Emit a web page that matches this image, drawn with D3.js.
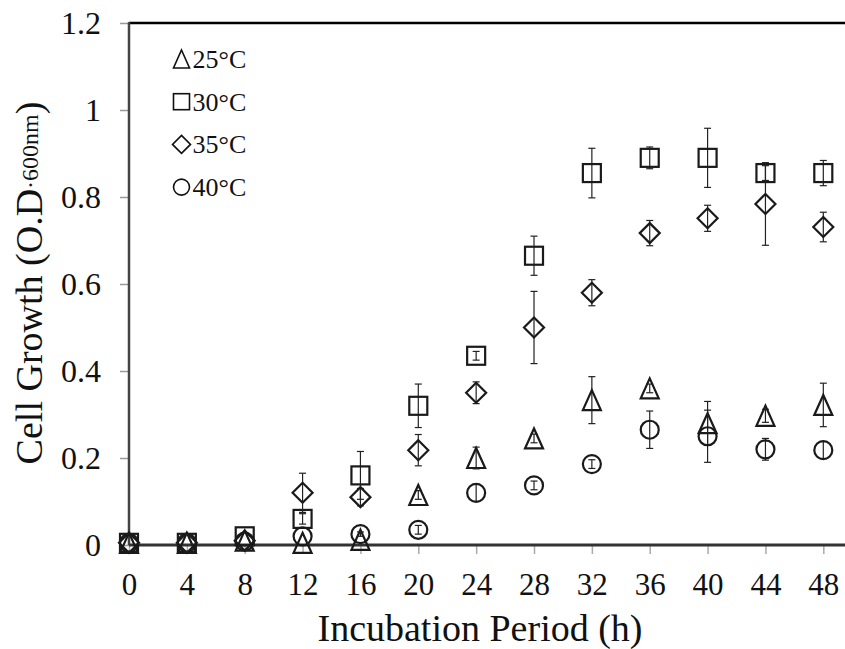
<!DOCTYPE html>
<html>
<head>
<meta charset="utf-8">
<script src="https://cdn.jsdelivr.net/npm/d3@7"></script>
<style>
  body { margin: 0; background: #fff; }
</style>
</head>
<body>
<div id="chart"></div>
<script>
// incubation time (h)
var hours = [0, 4, 8, 12, 16, 20, 24, 28, 32, 36, 40, 44, 48];
var yTicks = [0, 0.2, 0.4, 0.6, 0.8, 1, 1.2];

// OD600 readings per temperature, with error (+/-)
var t25 = [0.005, 0.005, 0.01, 0.005, 0.012, 0.115, 0.2, 0.245, 0.333, 0.36, 0.28, 0.297, 0.322];
var t25err = [0, 0, 0, 0, 0, 0.01, 0.025, 0.01, 0.054, 0.01, 0.05, 0.015, 0.05];
var t30 = [0.005, 0.005, 0.02, 0.06, 0.16, 0.32, 0.435, 0.665, 0.855, 0.89, 0.89, 0.855, 0.855];
var t30err = [0, 0, 0, 0.012, 0.055, 0.05, 0.01, 0.045, 0.057, 0.025, 0.068, 0.017, 0.029];
var t35 = [0.005, 0.005, 0.01, 0.12, 0.11, 0.218, 0.35, 0.5, 0.58, 0.717, 0.751, 0.784, 0.731];
var t35err = [0, 0, 0, 0.045, 0.02, 0.036, 0.025, 0.083, 0.03, 0.029, 0.03, 0.095, 0.034];
var t40 = [0.005, 0.005, 0.008, 0.02, 0.025, 0.035, 0.12, 0.137, 0.186, 0.265, 0.25, 0.22, 0.218];
var t40err = [0, 0, 0, 0, 0.005, 0.01, 0.02, 0.01, 0.01, 0.043, 0.06, 0.025, 0.02];

var series = [
  { name: "25\u00b0C", shape: "triangle", values: t25, err: t25err },
  { name: "30\u00b0C", shape: "square", values: t30, err: t30err },
  { name: "35\u00b0C", shape: "diamond", values: t35, err: t35err },
  { name: "40\u00b0C", shape: "circle", values: t40, err: t40err }
];

var FONT = "'Liberation Serif', 'Times New Roman', serif";
var W = 845, H = 649;
var margin = { top: 23, right: 0, bottom: 104, left: 129 };

var svg = d3.select("#chart").append("svg")
  .attr("width", W)
  .attr("height", H);

var x = d3.scaleLinear().domain([0, 49.5]).range([margin.left, W - margin.right]);
var y = d3.scaleLinear().domain([0, 1.2]).range([H - margin.bottom, margin.top]);

// marker drawing, centred on 0,0
function marker(sel, shape, s) {
  var h = s / 2;
  if (shape === "square") {
    sel.append("rect").attr("x", -h).attr("y", -h).attr("width", s).attr("height", s);
  } else if (shape === "diamond") {
    sel.append("path").attr("d", "M0," + (-h - 1) + "L" + (h + 1) + ",0L0," + (h + 1) + "L" + (-h - 1) + ",0Z");
  } else if (shape === "triangle") {
    sel.append("path").attr("d", "M0," + (-h - 1) + "L" + h + "," + (h + 1) + "L" + (-h) + "," + (h + 1) + "Z");
  } else {
    sel.append("circle").attr("r", h);
  }
}

// y axis: gray ticks on the left
var yAxis = svg.append("g")
  .attr("transform", "translate(" + margin.left + ",0)")
  .call(d3.axisLeft(y).tickValues(yTicks).tickSize(9).tickPadding(19)
    .tickFormat(function(d) { return d; }));
yAxis.attr("font-family", null);
yAxis.select(".domain").remove();
yAxis.selectAll(".tick line").attr("stroke", "#999").attr("stroke-width", 1.5);
yAxis.selectAll(".tick text")
  .style("font-family", FONT)
  .style("font-size", "32px")
  .attr("fill", "#111")
  .attr("dy", "0.34em");

// x axis: gray ticks below
var xAxis = svg.append("g")
  .attr("transform", "translate(0," + y(0) + ")")
  .call(d3.axisBottom(x).tickValues(hours).tickSize(9).tickPadding(19));
xAxis.attr("font-family", null);
xAxis.select(".domain").remove();
xAxis.selectAll(".tick line").attr("stroke", "#aaa").attr("stroke-width", 1.5);
xAxis.selectAll(".tick text")
  .style("font-family", FONT)
  .style("font-size", "31px")
  .attr("fill", "#111");

// frame lines
svg.append("line")
  .attr("x1", x(0)).attr("x2", W)
  .attr("y1", y(1.2)).attr("y2", y(1.2))
  .attr("stroke", "#000").attr("stroke-width", 2.5);
svg.append("line")
  .attr("x1", x(0)).attr("x2", x(0))
  .attr("y1", y(1.2) - 1).attr("y2", y(0))
  .attr("stroke", "#444").attr("stroke-width", 2.5);
svg.append("line")
  .attr("x1", x(0)).attr("x2", W)
  .attr("y1", y(0)).attr("y2", y(0))
  .attr("stroke", "#333").attr("stroke-width", 3);

// data points with error bars
var plot = svg.append("g");
series.forEach(function(s) {
  var g = plot.append("g");
  hours.forEach(function(hr, i) {
    var cx = x(hr), v = s.values[i], e = s.err[i];
    if (e > 0) {
      var y1 = y(v + e), y2 = y(v - e);
      g.append("line").attr("x1", cx).attr("x2", cx).attr("y1", y1).attr("y2", y2)
        .attr("stroke", "#222").attr("stroke-width", 1.2);
      [y1, y2].forEach(function(yy) {
        g.append("line").attr("x1", cx - 3.5).attr("x2", cx + 3.5).attr("y1", yy).attr("y2", yy)
          .attr("stroke", "#222").attr("stroke-width", 1.2);
      });
    }
    var m = g.append("g").attr("transform", "translate(" + cx + "," + y(v) + ")")
      .attr("fill", "none").attr("stroke", "#1a1a1a").attr("stroke-width", 2.2);
    marker(m, s.shape, 18);
  });
});

// legend
var legend = svg.append("g").attr("transform", "translate(181.5,59)");
var item = legend.selectAll("g")
  .data(series)
  .enter()
  .append("g")
  .attr("transform", function(d, i) { return "translate(0," + i * 42.7 + ")"; });
item.each(function(d) {
  var m = d3.select(this).append("g")
    .attr("fill", "none").attr("stroke", "#111").attr("stroke-width", 1.6);
  marker(m, d.shape, 16);
});
item.append("text")
  .attr("x", 11)
  .attr("dy", "0.34em")
  .style("font-family", FONT)
  .style("font-size", "26px")
  .attr("fill", "#111")
  .text(function(d) { return d.name; });

// axis titles
svg.append("text")
  .attr("x", 480)
  .attr("y", 641)
  .attr("text-anchor", "middle")
  .style("font-family", FONT)
  .style("font-size", "38px")
  .attr("fill", "#111")
  .text("Incubation Period (h)");

var yt = svg.append("text")
  .attr("transform", "translate(42,283) rotate(-90)")
  .attr("text-anchor", "middle")
  .style("font-family", FONT)
  .style("font-size", "38px")
  .attr("fill", "#111");
yt.append("tspan").text("Cell Growth (O.D");
yt.append("tspan").attr("dy", -4).style("font-size", "24px").text("\u00b7600nm");
yt.append("tspan").attr("dy", 4).text(")");
</script>
</body>
</html>
